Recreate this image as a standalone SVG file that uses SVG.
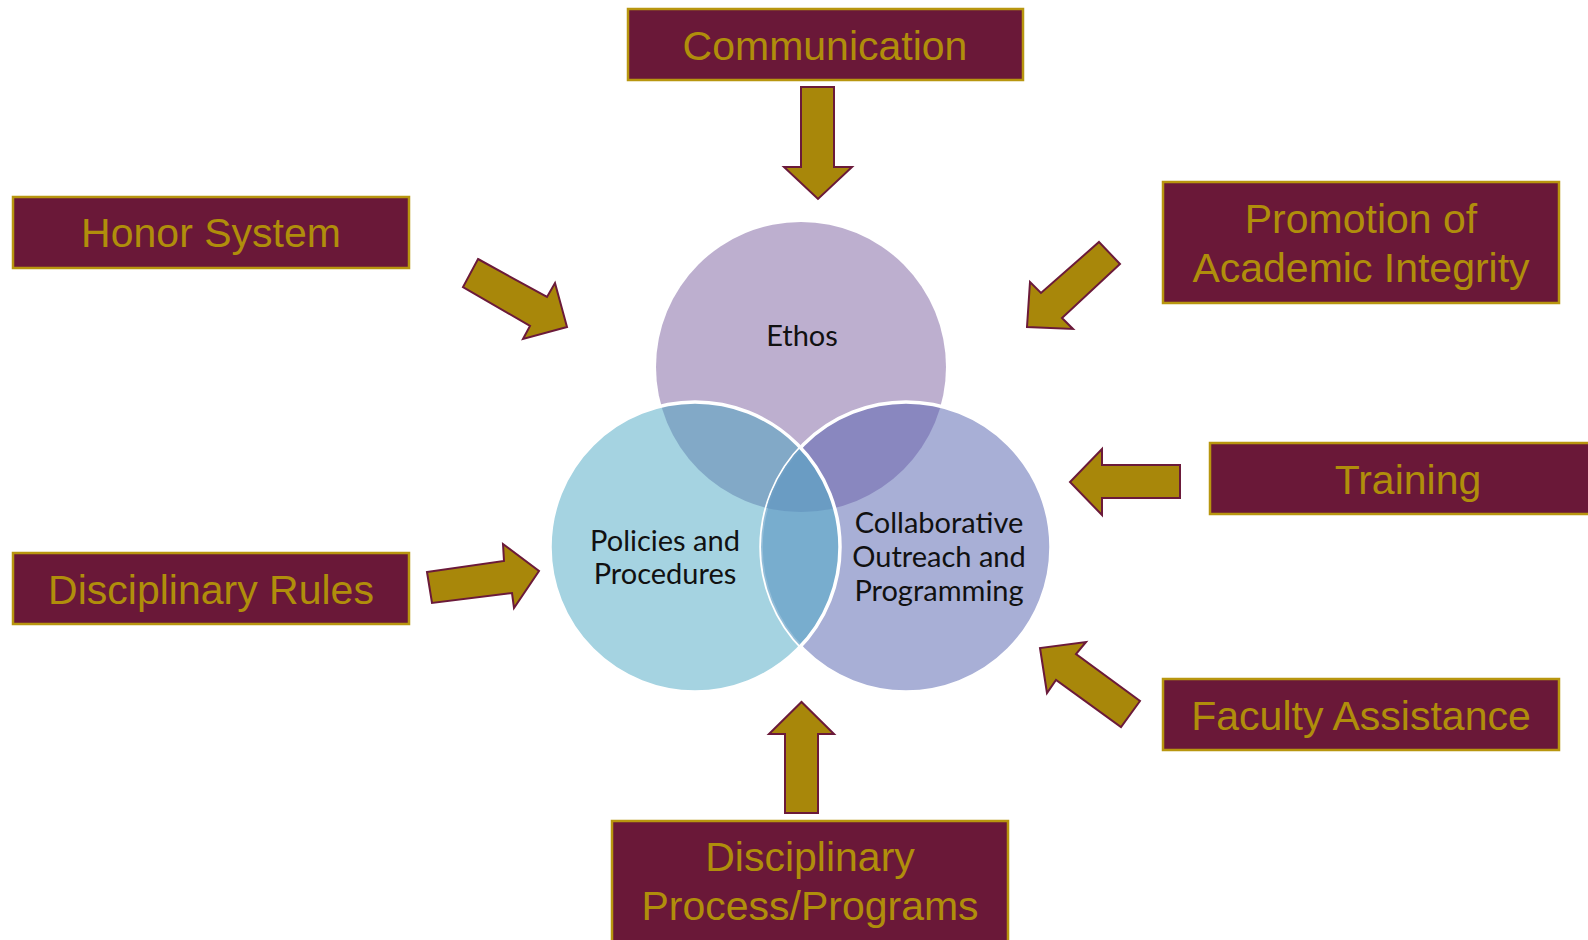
<svg xmlns="http://www.w3.org/2000/svg" width="1588" height="940" viewBox="0 0 1588 940">
<style>
.box{fill:#6A1838;stroke:#B8960F;stroke-width:2.5}
.bt{font-family:"Liberation Sans",Arial,sans-serif;font-size:41px;fill:#B08E0B;text-anchor:middle}
.arr{fill:#A8870A;stroke:#6B1A3A;stroke-width:2;stroke-linejoin:miter}
.ct{font-family:Lato,"Open Sans",sans-serif;font-size:29px;fill:#111;text-anchor:middle}
.wl{fill:none;stroke:#fff;stroke-width:3.5}
</style>
<defs>
<clipPath id="cE"><circle cx="801" cy="367" r="145"/></clipPath>
<clipPath id="cP"><circle cx="695" cy="547" r="145"/></clipPath>
<clipPath id="cC"><circle cx="906" cy="547" r="145"/></clipPath>
</defs>
<rect width="1588" height="940" fill="#fff"/>

<g id="ethos"><circle cx="801" cy="367" r="145" fill="#BDAFCF"/></g>
<g id="collaborative"><circle cx="906" cy="547" r="145" fill="#A8AFD6"/></g>
<g id="policies"><circle cx="695" cy="547" r="145" fill="#A5D3E1"/></g>
<g id="overlaps">
<circle cx="695" cy="547" r="145" fill="#82A9C7" clip-path="url(#cE)"/>
<circle cx="906" cy="547" r="145" fill="#8987BF" clip-path="url(#cE)"/>
<g clip-path="url(#cC)">
<circle cx="695" cy="547" r="145" fill="#78ADCE"/>
<circle cx="695" cy="547" r="145" fill="#6898C0" clip-path="url(#cE)"/>
</g>
<circle class="wl" cx="906" cy="547" r="145"/>
<g clip-path="url(#cC)">
<circle cx="695" cy="547" r="145" fill="#78ADCE" fill-opacity="0.8"/>
<circle cx="695" cy="547" r="145" fill="#6898C0" fill-opacity="0.8" clip-path="url(#cE)"/>
</g>
<circle class="wl" cx="695" cy="547" r="145"/>
</g>
<g id="circle-labels">
<text class="ct" x="802" y="346">Ethos</text>
<text class="ct" x="665" y="551">Policies and</text>
<text class="ct" x="665" y="584">Procedures</text>
<text class="ct" x="939" y="533">Collaborative</text>
<text class="ct" x="939" y="567">Outreach and</text>
<text class="ct" x="939" y="601">Programming</text>
</g>

<g id="connectors">
<path class="arr" d="M801,87 H834 V167 H852 L818,199 L784,167 H801 Z"/>
<path class="arr" d="M478,259 L547,297 L555,283 L567,327 L523,339 L530,326 L463,287 Z"/>
<path class="arr" d="M1099,242 L1120,264 L1062,318 L1073,329 L1027,327 L1030,282 L1041,293 Z"/>
<path class="arr" d="M1180,465 V498 H1102 V515 L1070,482 L1102,449 V465 Z"/>
<path class="arr" d="M427,572 L504,561 L503,544 L539,571 L514,608 L512,593 L432,603 Z"/>
<path class="arr" d="M1140,701 L1121,727 L1056,680 L1047,693 L1040,648 L1086,642 L1076,654 Z"/>
<path class="arr" d="M785,813 V734 H769 L801.5,702 L834,734 H818 V813 Z"/>
</g>

<g id="communication"><rect class="box" x="628" y="9" width="395" height="71"/><text class="bt" x="825" y="60">Communication</text></g>
<g id="honor-system"><rect class="box" x="13" y="197" width="396" height="71"/><text class="bt" x="211" y="247">Honor System</text></g>
<g id="promotion"><rect class="box" x="1163" y="182" width="396" height="121"/><text class="bt" x="1361" y="233">Promotion of</text><text class="bt" x="1361" y="282">Academic Integrity</text></g>
<g id="training"><rect class="box" x="1210" y="443" width="396" height="71"/><text class="bt" x="1408" y="494">Training</text></g>
<g id="disciplinary-rules"><rect class="box" x="13" y="553" width="396" height="71"/><text class="bt" x="211" y="604">Disciplinary Rules</text></g>
<g id="faculty-assistance"><rect class="box" x="1163" y="679" width="396" height="71"/><text class="bt" x="1361" y="730">Faculty Assistance</text></g>
<g id="disciplinary-process"><rect class="box" x="612" y="821" width="396" height="121"/><text class="bt" x="810" y="871">Disciplinary</text><text class="bt" x="810" y="920">Process/Programs</text></g>
</svg>
